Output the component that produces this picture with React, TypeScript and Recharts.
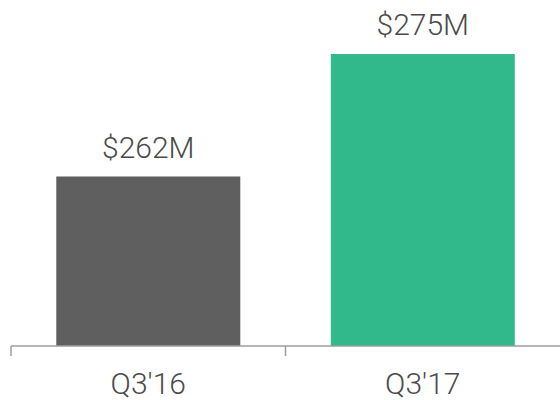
import React from 'react';
import { BarChart, Bar, Cell, XAxis, YAxis, LabelList } from 'recharts';

const quarters = ["Q3'16", "Q3'17"];
const revenue = [262, 275];
const barColors = ['#5f5f5f', '#31b98c'];

const data = quarters.map((q, i) => ({ name: q, value: revenue[i] }));

const W = 560;
const H = 400;
const LEFT = 11;
const BAND_HALF = (W - LEFT) / quarters.length / 2;
const TEXT = '#4a4a4a';

const QuarterTick = (props: any) => {
  const { x, y, payload } = props;
  const half = payload && payload.offset > 0 ? payload.offset : BAND_HALF;
  const axisY = y - 27;
  return (
    <g>
      <line x1={x - half} x2={x - half} y1={axisY} y2={axisY + 10} stroke="#9e9e9e" strokeWidth={1.5} />
      <text x={x} y={y} dy="0.71em" textAnchor="middle" fill={TEXT} fontSize={30} fontWeight={300} fontFamily="Roboto">
        {payload.value}
      </text>
    </g>
  );
};

const App: React.FC = () => {
  return (
    <div style={{ position: 'absolute', left: 0, top: 0, background: '#fff' }}>
      <BarChart width={W} height={H} data={data} margin={{ top: 7, right: 0, bottom: 0, left: LEFT }} barCategoryGap="16.5%">
        <XAxis
          dataKey="name"
          height={54}
          axisLine={{ stroke: '#9e9e9e', strokeWidth: 1.5 }}
          tickLine={false}
          tickSize={10}
          tickMargin={17}
          tick={<QuarterTick />}
        />
        <YAxis hide domain={[244, 280]} />
        <Bar dataKey="value" isAnimationActive={false}>
          {data.map((d, i) => (
            <Cell key={d.name} fill={barColors[i]} />
          ))}
          <LabelList
            dataKey="value"
            position="top"
            offset={19}
            formatter={(v: any) => `$${v}M`}
            fill={TEXT}
            fontSize={30}
            fontWeight={300}
            fontFamily="Roboto"
          />
        </Bar>
      </BarChart>
    </div>
  );
};

export default App;
